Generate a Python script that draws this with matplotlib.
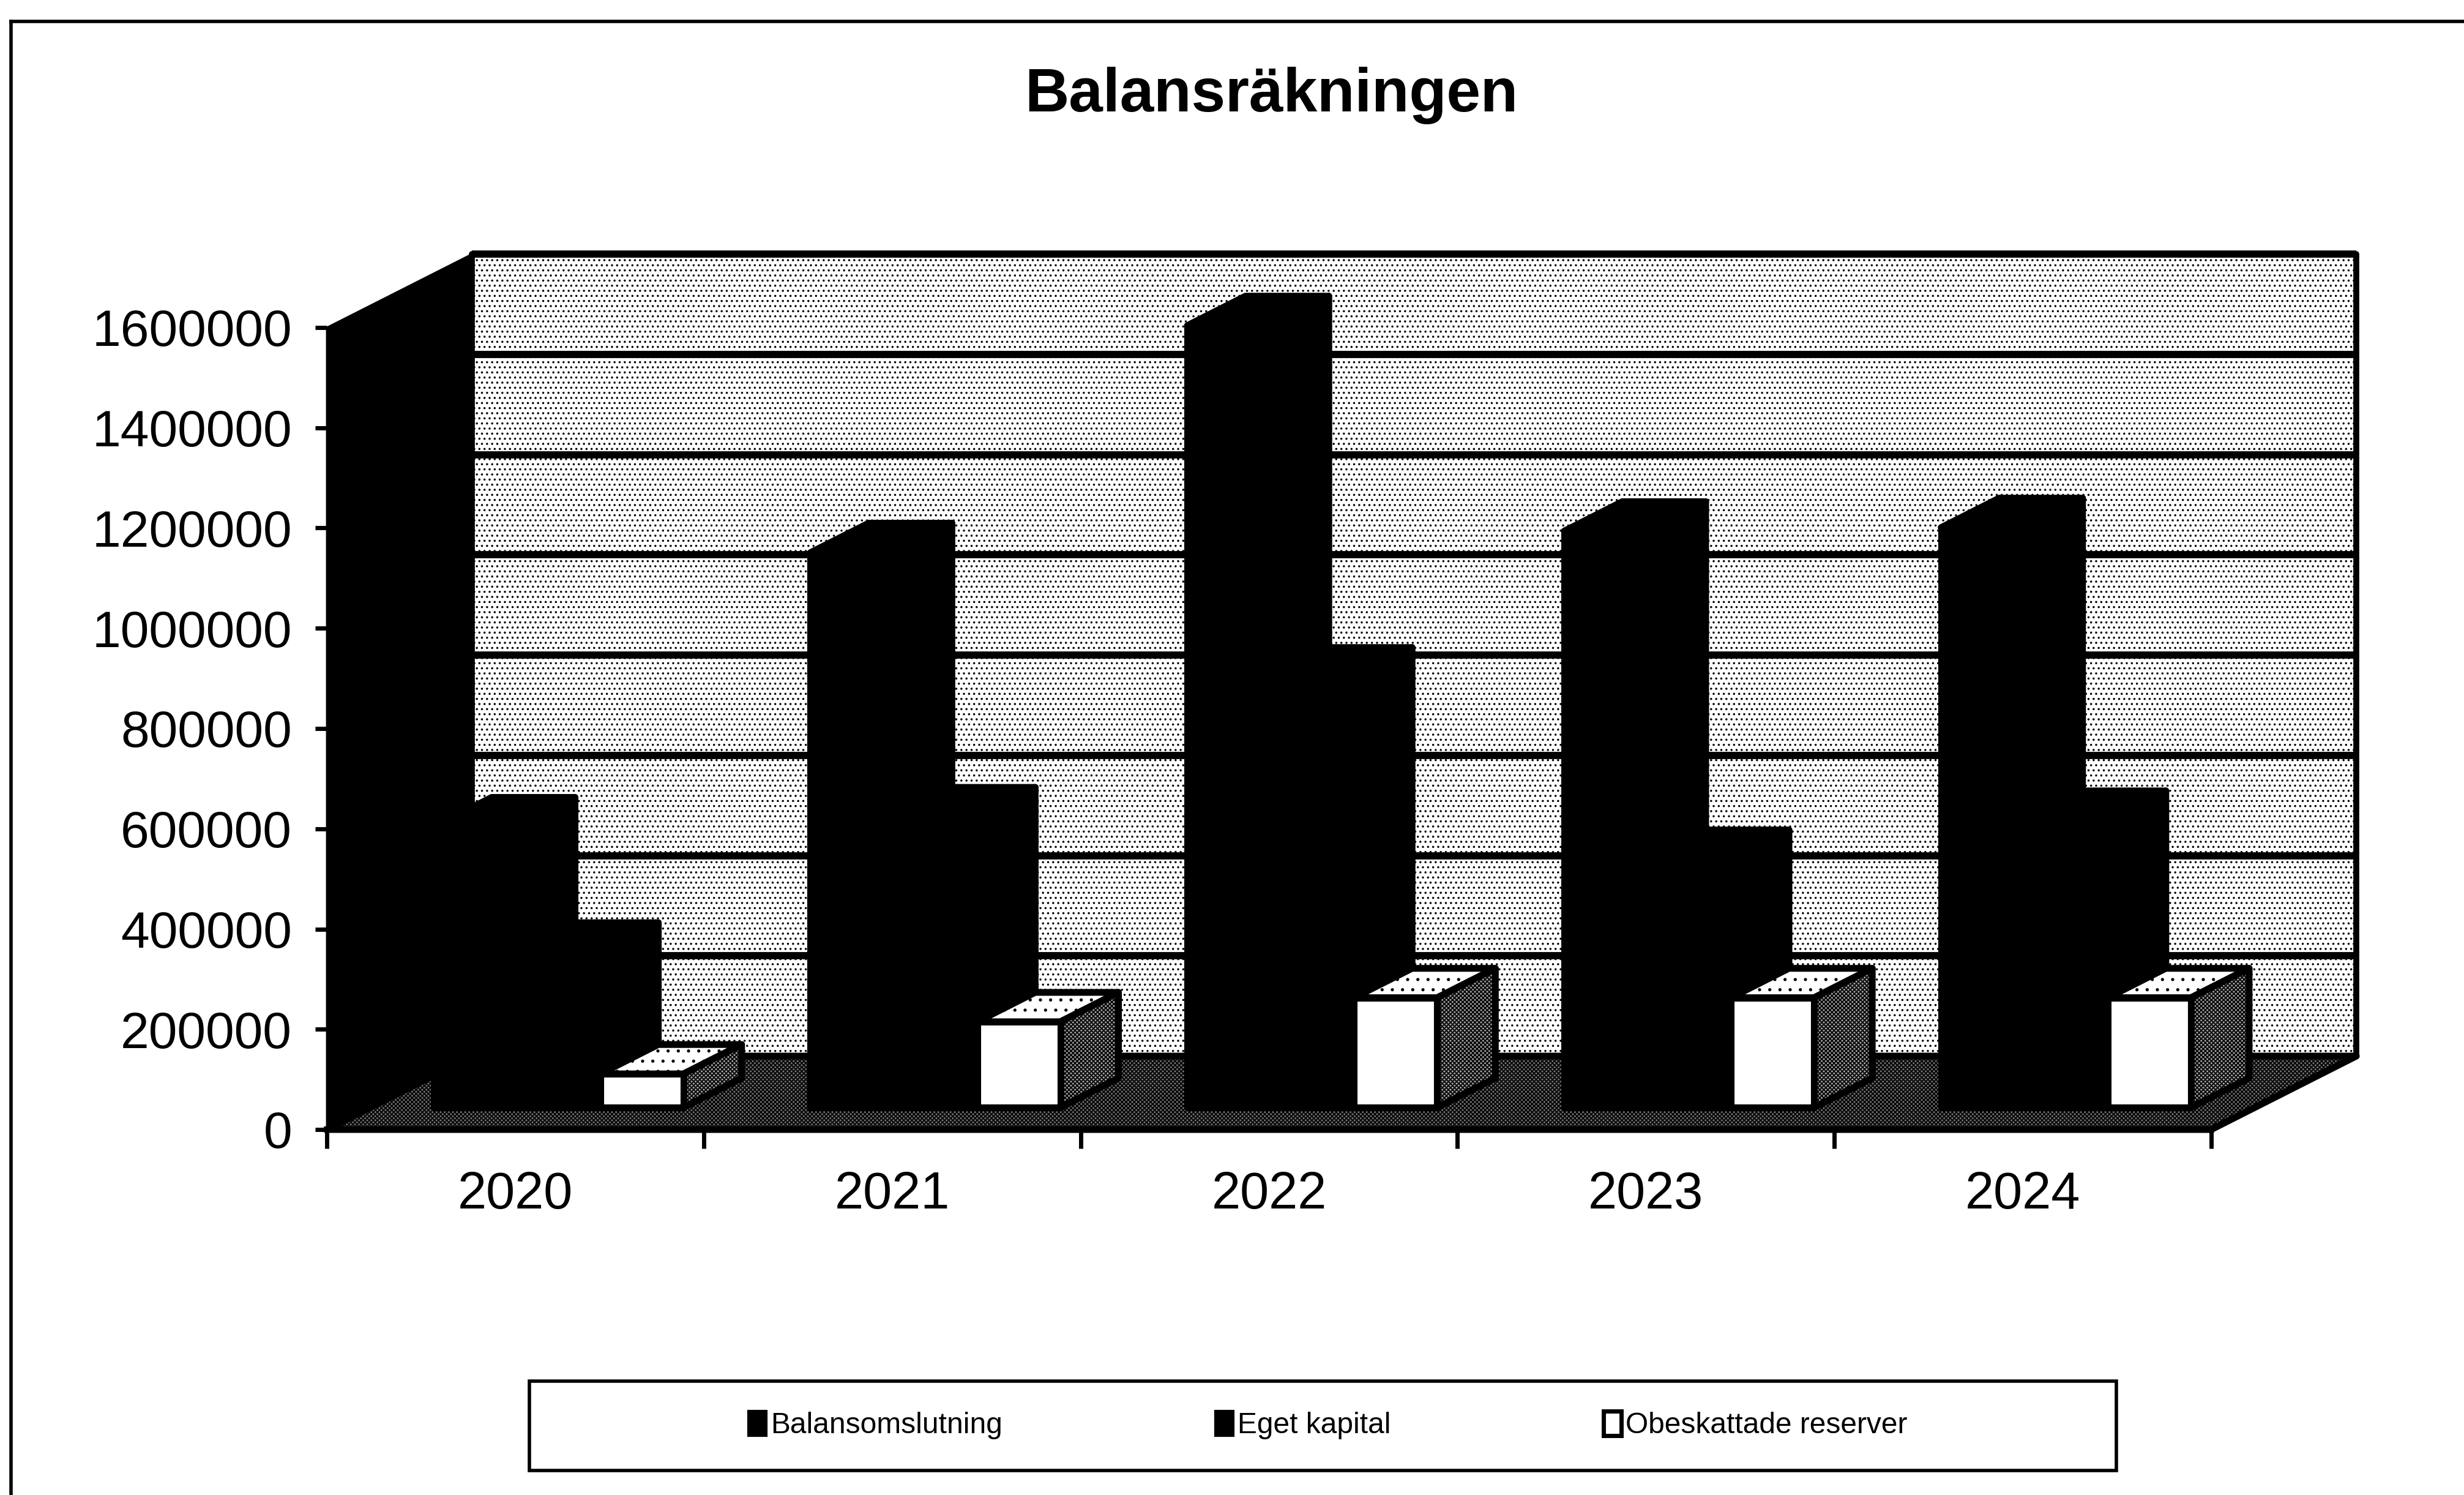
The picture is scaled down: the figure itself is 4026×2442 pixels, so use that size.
import matplotlib
matplotlib.use('Agg')
import matplotlib.pyplot as plt
from matplotlib.lines import Line2D
from matplotlib.patches import Patch, Polygon, Rectangle

plt.rcParams['font.family'] = ['Liberation Sans', 'DejaVu Sans']
plt.rcParams['hatch.linewidth'] = 1.3

# data
years = ['2020', '2021', '2022', '2023', '2024']
balansomslutning = [560000, 1107000, 1560000, 1150000, 1157000]
eget_kapital = [310000, 580000, 859000, 495000, 573000]
obeskattade_reserver = [67000, 171000, 219000, 219000, 219000]
series_names = ['Balansomslutning', 'Eget kapital', 'Obeskattade reserver']
y_ticks = [0, 200000, 400000, 600000, 800000, 1000000, 1200000, 1400000, 1600000]

# 3D look: how far the back wall is moved from the front plane
depth_x = 0.385
depth_y = 146500
bar_width = 0.221
bar_start = 0.168
z_front = 0.3
z_back = 0.7

W, H = 4026, 2442
fig = plt.figure(figsize=(W / 100, H / 100), dpi=100, facecolor='white')
ax = fig.add_axes([534 / W, 1 - 1845 / H, 3079 / W, 1310 / H])
ax.set_xlim(0, 5)
ax.set_ylim(0, 1600000)
ax.patch.set_visible(False)


def shift(x, y, z):
    return x + depth_x * z, y + depth_y * z


def face(points, z=5, **kw):
    ax.add_patch(Polygon(points, closed=True, clip_on=False, zorder=z, joinstyle='round', **kw))


def draw_bar(x, value, fill_front, fill_top, fill_side, hatch_top, hatch_side, z):
    x2 = x + bar_width
    a = shift(x, 0, z_front)
    b = shift(x2, 0, z_front)
    c = shift(x2, value, z_front)
    d = shift(x, value, z_front)
    e = shift(x, value, z_back)
    f = shift(x2, value, z_back)
    g = shift(x2, 0, z_back)
    face([d, e, f, c], z=z, facecolor=fill_top, edgecolor='black', lw=8, hatch=hatch_top)
    face([b, c, f, g], z=z, facecolor=fill_side, edgecolor='black', lw=8, hatch=hatch_side)
    face([a, b, c, d], z=z, facecolor=fill_front, edgecolor='black', lw=8)


# back wall
x0, y0 = shift(0, 0, 1)
x1, y1 = shift(5, 1600000, 1)
face([(x0, y0), (x1, y0), (x1, y1), (x0, y1)], z=1, facecolor='white', edgecolor='black', lw=7, hatch='..')
for v in y_ticks[1:]:
    a = shift(0, v, 1)
    b = shift(5, v, 1)
    ax.plot([a[0], b[0]], [a[1], b[1]], color='black', lw=8.5, zorder=2, clip_on=False, solid_capstyle='butt')

# side wall, solid black in the original
face([shift(0, 0, 0), shift(0, 1600000, 0), shift(0, 1600000, 1), shift(0, 0, 1)], z=3, facecolor='black', edgecolor='black', lw=2)

# floor
face([shift(0, 0, 0), shift(5, 0, 0), shift(5, 0, 1), shift(0, 0, 1)], z=3, facecolor='#707070', edgecolor='black', lw=8, hatch='xxxxx')

# bars, left to right so nearer faces come on top
for i in range(len(years)):
    base = i + bar_start
    draw_bar(base, balansomslutning[i], 'black', 'black', 'black', None, None, 10 + i * 3)
    draw_bar(base + bar_width, eget_kapital[i], 'black', 'black', 'black', None, None, 11 + i * 3)
    draw_bar(base + 2 * bar_width, obeskattade_reserver[i], 'white', 'white', '#a0a0a0', '.', 'xxxxx', 12 + i * 3)

# axes
for side in ['top', 'right', 'left']:
    ax.spines[side].set_visible(False)
ax.spines['bottom'].set_linewidth(7)
ax.spines['bottom'].set_zorder(40)
ax.set_yticks(y_ticks)
ax.set_yticklabels([str(v) for v in y_ticks])
ax.set_xticks(range(6))
ax.set_xticklabels([])
ax.set_xticks([i + 0.5 for i in range(5)], minor=True)
ax.set_xticklabels(years, minor=True)
ax.tick_params(axis='y', length=14, width=5, labelsize=60.5, pad=27)
ax.tick_params(axis='x', which='major', length=22, width=5)
ax.tick_params(axis='x', which='minor', length=0, labelsize=61, pad=48)

fig.text(2077 / W, 1 - 156 / H, 'Balansräkningen', fontsize=72, fontweight='bold', ha='center', va='center')

# outer frame: only top and left lines are on the page
fig.add_artist(Line2D([18 / W, 1], [1 - 35 / H, 1 - 35 / H], transform=fig.transFigure, color='black', lw=4))
fig.add_artist(Line2D([18 / W, 18 / W], [0, 1 - 35 / H], transform=fig.transFigure, color='black', lw=4))

# legend box
fig.add_artist(Rectangle((865 / W, 1 - 2402 / H), 2593 / W, 146 / H, transform=fig.transFigure,
                         facecolor='none', edgecolor='black', lw=4))
handles = [Patch(facecolor='black', edgecolor='black', lw=3),
           Patch(facecolor='black', edgecolor='black', lw=3),
           Patch(facecolor='white', edgecolor='black', lw=5)]
fig.legend(handles, series_names, loc='center', bbox_to_anchor=(2170 / W, 1 - 2328 / H), ncol=3, frameon=False,
           fontsize=34.5, handlelength=0.6, handleheight=0.9, handletextpad=0.15, columnspacing=7.26)

fig.savefig('out.png', dpi=100)
